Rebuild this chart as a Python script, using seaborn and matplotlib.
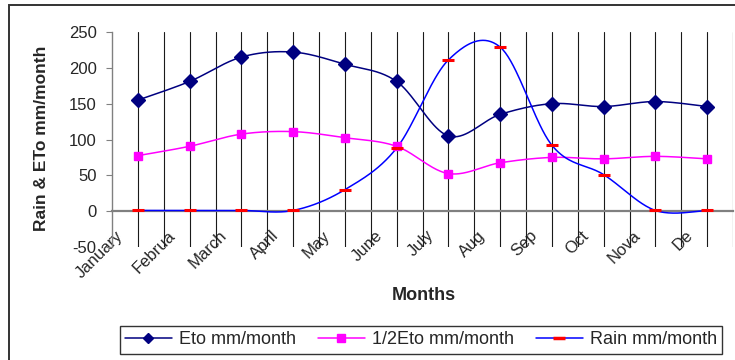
import numpy as np
import pandas as pd
import matplotlib
matplotlib.use("Agg")
import matplotlib.pyplot as plt
import matplotlib.transforms as mtransforms
from matplotlib.lines import Line2D
from matplotlib.patches import Rectangle
import seaborn as sns

# Monthly values
months = ["January", "Februa", "March", "April", "May", "June",
          "July", "Aug", "Sep", "Oct", "Nova", "De"]
eto = [155, 181, 215, 222, 205, 181, 105, 135, 150, 146, 153, 146]
half_eto = [77.5, 90.5, 107.5, 111, 102.5, 90.5, 52.5, 67.5, 75, 73, 76.5, 73]
rain = [1, 1, 1, 1, 30, 88, 211, 229, 92, 51, 1, 1]
y_ticks = [-50, 0, 50, 100, 150, 200, 250]

x = np.arange(1, len(months) + 1, dtype=float)


def smooth(xs, ys, n=40):
    """Catmull-Rom style Bezier smoothing through every point."""
    xs = np.asarray(xs, float)
    ys = np.asarray(ys, float)
    px = np.concatenate([[xs[0]], xs, [xs[-1]]])
    py = np.concatenate([[ys[0]], ys, [ys[-1]]])
    t = np.linspace(0, 1, n)[:, None]
    out_x, out_y = [], []
    for i in range(1, len(px) - 2):
        p0 = np.array([px[i], py[i]])
        p3 = np.array([px[i + 1], py[i + 1]])
        p1 = p0 + (np.array([px[i + 1], py[i + 1]]) - np.array([px[i - 1], py[i - 1]])) / 6
        p2 = p3 - (np.array([px[i + 2], py[i + 2]]) - np.array([px[i], py[i]])) / 6
        seg = ((1 - t) ** 3) * p0 + 3 * ((1 - t) ** 2) * t * p1 + 3 * (1 - t) * t ** 2 * p2 + t ** 3 * p3
        out_x.append(seg[:, 0])
        out_y.append(seg[:, 1])
    return np.concatenate(out_x), np.concatenate(out_y)


sns.set_theme(style="white")
plt.rcParams["font.family"] = ["Liberation Sans", "DejaVu Sans"]

fig = plt.figure(figsize=(7.35, 3.6), dpi=100)
ax = fig.add_axes([112 / 735, 113 / 360, 621 / 735, 215 / 360])

navy = "#000080"
magenta = "#FF00FF"
blue = "#0000FF"
red = "#FF0000"

series = [
    (eto, navy, 1.1),
    (half_eto, magenta, 1.1),
    (rain, blue, 1.1),
]
for vals, col, lw in series:
    sx, sy = smooth(x, vals)
    df = pd.DataFrame({"x": sx, "y": sy})
    sns.lineplot(data=df, x="x", y="y", sort=False, color=col, lw=lw, ax=ax, zorder=3)

ax.plot(x, eto, ls="none", marker="D", ms=7, color=navy, mec=navy, zorder=4)
ax.plot(x, half_eto, ls="none", marker="s", ms=6.2, color=magenta, mec=magenta, zorder=4)
ax.plot(x, rain, ls="none", marker="_", ms=9, mew=2.2, color=red, zorder=4)

ax.set_xlim(0.5, 12.5)
ax.set_ylim(-50, 250)
ax.set_xlabel("")
ax.set_ylabel("")
ax.set_yticks(y_ticks)
ax.set_yticklabels([str(v) for v in y_ticks], fontsize=12)

# category axis sits on y = 0
ax.spines["bottom"].set_position(("data", 0))
for s in ["top", "right"]:
    ax.spines[s].set_visible(False)
for s in ["left", "bottom"]:
    ax.spines[s].set_color("#808080")
ax.spines["bottom"].set_linewidth(1.6)
ax.spines["left"].set_linewidth(1.0)

ax.set_xticks(x)
ax.set_xticklabels(months, rotation=45, ha="right", va="top",
                   rotation_mode="anchor", fontsize=12)
ax.set_xticks(np.arange(0.5, 13, 1.0), minor=True)
ax.tick_params(axis="x", which="major", length=0, pad=12)
ax.tick_params(axis="x", which="minor", length=6, direction="inout", color="#404040", width=0.8)
ax.tick_params(axis="y", which="major", length=4, direction="out", color="#808080",
               width=0.8, left=True, pad=7)
shift = mtransforms.ScaledTranslation(-16 / 72, 0, fig.dpi_scale_trans)
for lab in ax.get_xticklabels():
    lab.set_transform(lab.get_transform() + shift)

ax.grid(False)
for gx in np.arange(1.0, 12.51, 0.5):
    ax.axvline(gx, color="#1a1a1a", lw=0.8, zorder=1)

fig.text(42 / 735, 1 - 138 / 360, "Rain & ETo mm/month", fontsize=12.5,
         fontweight="bold", rotation=90, ha="center", va="center")
fig.text(424 / 735, 1 - 295 / 360, "Months", fontsize=13, fontweight="bold",
         ha="center", va="center")

handles = [
    Line2D([], [], color=navy, lw=1.1, marker="D", ms=5.5, mec=navy),
    Line2D([], [], color=magenta, lw=1.1, marker="s", ms=5.5, mec=magenta),
    Line2D([], [], color=blue, lw=1.1, marker="_", ms=8, mew=2.5, mec=red),
]
leg = fig.legend(handles, ["Eto mm/month", "1/2Eto mm/month", "Rain mm/month"],
                 loc="center", bbox_to_anchor=(421 / 735, 1 - 340 / 360), ncol=3,
                 frameon=True, fancybox=False, edgecolor="black", fontsize=13,
                 handlelength=2.6, handletextpad=0.4, columnspacing=1.2,
                 borderpad=0.3, borderaxespad=0)
leg.get_frame().set_linewidth(1.0)

fig.patches.append(Rectangle((9 / 735, -0.1), 1.2, 1 - 5 / 360 + 0.1,
                             transform=fig.transFigure, fill=False,
                             edgecolor="#333333", lw=1.4))

fig.savefig("out.png", dpi=100)
